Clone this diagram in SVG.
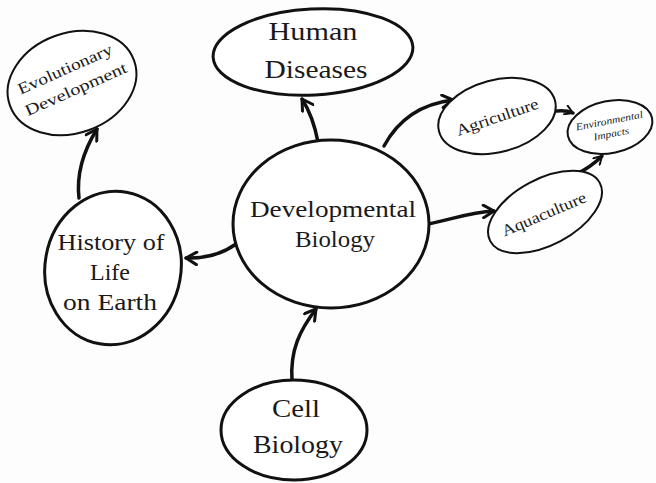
<svg xmlns="http://www.w3.org/2000/svg" width="656" height="483" viewBox="0 0 656 483">
<defs>
<marker id="arr" viewBox="0 0 12 12" refX="10" refY="6" markerWidth="15" markerHeight="15" markerUnits="userSpaceOnUse" orient="auto">
<path d="M1.5,1 L10,6 L1.5,11" fill="none" stroke="#111" stroke-width="2.4" stroke-linecap="round" stroke-linejoin="round"/>
</marker>
<marker id="arrs" viewBox="0 0 12 12" refX="10" refY="6" markerWidth="11" markerHeight="11" markerUnits="userSpaceOnUse" orient="auto">
<path d="M1.5,1 L10,6 L1.5,11" fill="none" stroke="#111" stroke-width="2.2" stroke-linecap="round" stroke-linejoin="round"/>
</marker>
</defs>
<style>
.n{fill:#fff;stroke:#111;stroke-width:3}
.s{stroke-width:2}
.t{font-family:"Liberation Serif","DejaVu Serif",serif;fill:#1a1a1a;text-anchor:middle}
.c{fill:none;stroke:#111;stroke-width:3.5;stroke-linecap:round}
</style>
<rect width="656" height="483" fill="#fdfdfd"/>
<g id="connectors">
<path class="c" d="M318 142 Q313 116 302 99" stroke-width="4" marker-end="url(#arr)"/>
<path class="c" d="M384 146 C398 120 420 104 453 100" marker-end="url(#arr)"/>
<path class="c" d="M557 111 Q566 110 573 113" stroke-width="2.5" marker-end="url(#arrs)"/>
<path class="c" d="M576 174 Q590 168 602 156" stroke-width="2.5" marker-end="url(#arrs)"/>
<path class="c" d="M428 224 C450 220 470 212 494 211" stroke-width="5" marker-end="url(#arr)"/>
<path class="c" d="M236 244 Q215 259 186 258" marker-end="url(#arr)"/>
<path class="c" d="M79 198 C76 172 84 150 97 129" marker-end="url(#arr)"/>
<path class="c" d="M292 380 C290 350 300 330 316 309" stroke-width="2.8" marker-end="url(#arr)"/>
</g>
<g id="developmental-biology">
<ellipse class="n" cx="331" cy="224" rx="98" ry="84" stroke-width="5"/>
<text class="t" x="333" y="217" font-size="24" textLength="166" lengthAdjust="spacingAndGlyphs">Developmental</text>
<text class="t" x="335" y="247" font-size="24" textLength="80" lengthAdjust="spacingAndGlyphs">Biology</text>
</g>
<g id="human-diseases">
<ellipse class="n" cx="313" cy="52" rx="100" ry="43" transform="rotate(-3 313 52)"/>
<text class="t" x="313" y="40" font-size="25" textLength="89" lengthAdjust="spacingAndGlyphs">Human</text>
<text class="t" x="316" y="78" font-size="25" textLength="103" lengthAdjust="spacingAndGlyphs">Diseases</text>
</g>
<g id="agriculture">
<ellipse class="n s" cx="497" cy="116" rx="60" ry="36" transform="rotate(-15 497 116)"/>
<text class="t" x="0" y="0" font-size="16" textLength="86" lengthAdjust="spacingAndGlyphs" transform="translate(499 122) rotate(-19)">Agriculture</text>
</g>
<g id="environmental-impacts">
<ellipse class="n s" cx="610" cy="127" rx="43" ry="26" transform="rotate(-12 610 127)"/>
<text class="t" x="0" y="0" font-size="10" font-style="italic" textLength="68" lengthAdjust="spacingAndGlyphs" transform="translate(610 124) rotate(-11)">Environmental</text>
<text class="t" x="0" y="0" font-size="10" font-style="italic" textLength="36" lengthAdjust="spacingAndGlyphs" transform="translate(612 137) rotate(-11)">Impacts</text>
</g>
<g id="aquaculture">
<ellipse class="n s" cx="545" cy="212" rx="62" ry="33" transform="rotate(-28 545 212)"/>
<text class="t" x="0" y="0" font-size="16" textLength="90" lengthAdjust="spacingAndGlyphs" transform="translate(546 219) rotate(-23)">Aquaculture</text>
</g>
<g id="history-of-life">
<ellipse class="n" cx="113" cy="268" rx="68" ry="77" transform="rotate(10 113 268)"/>
<text class="t" x="111" y="250" font-size="24" textLength="107" lengthAdjust="spacingAndGlyphs">History of</text>
<text class="t" x="110" y="280" font-size="24" textLength="40" lengthAdjust="spacingAndGlyphs">Life</text>
<text class="t" x="110" y="310" font-size="24" textLength="94" lengthAdjust="spacingAndGlyphs">on Earth</text>
</g>
<g id="evolutionary-development">
<ellipse class="n s" cx="72" cy="83" rx="66" ry="50" transform="rotate(-20 72 83)"/>
<text class="t" x="0" y="0" font-size="16" textLength="102" lengthAdjust="spacingAndGlyphs" transform="translate(67 74) rotate(-24)">Evolutionary</text>
<text class="t" x="0" y="0" font-size="16" textLength="110" lengthAdjust="spacingAndGlyphs" transform="translate(78 94) rotate(-24)">Development</text>
</g>
<g id="cell-biology">
<ellipse class="n" cx="294" cy="430" rx="73" ry="50"/>
<text class="t" x="296" y="417" font-size="25" textLength="48" lengthAdjust="spacingAndGlyphs">Cell</text>
<text class="t" x="298" y="453" font-size="25" textLength="90" lengthAdjust="spacingAndGlyphs">Biology</text>
</g>
</svg>
